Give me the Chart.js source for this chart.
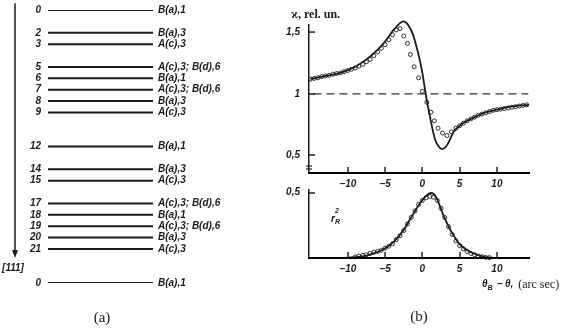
<!DOCTYPE html>
<html>
<head>
<meta charset="utf-8">
<script src="https://cdn.jsdelivr.net/npm/chart.js@4.4.0/dist/chart.umd.min.js"></script>
<style>
  html, body { margin: 0; padding: 0; background: #fff; }
  #wrap { position: relative; width: 567px; height: 329px; }
  #wrap canvas { position: absolute; left: 0; top: 0; }
</style>
</head>
<body>
<div id="wrap">
  <canvas id="levels" width="567" height="329"></canvas>
  <canvas id="kappa" width="567" height="329"></canvas>
  <canvas id="refl" width="567" height="329"></canvas>
</div>
<script>
// (a) atomic planes along [111]
const levelNumbers = ["0", "2", "3", "5", "6", "7", "8", "9", "12", "14", "15", "17", "18", "19", "20", "21", "0"];
const levelDepth = [0, 2, 3, 5, 6, 7, 8, 9, 12, 14, 15, 17, 18, 19, 20, 21, 24];
const levelLabels = [
  "B(a),1", "B(a),3", "A(c),3", "A(c),3; B(d),6", "B(a),1", "A(c),3; B(d),6", "B(a),3", "A(c),3",
  "B(a),1", "B(a),3", "A(c),3", "A(c),3; B(d),6", "B(a),1", "A(c),3; B(d),6", "B(a),3", "A(c),3", "B(a),1"
];

// (b) upper panel: kappa, rel. units
const kappaTheoryX = [-15, -13, -11, -9, -7.5, -6.5, -5.5, -4.7, -4, -3.4, -3.0, -2.6, -2.2, -1.8, -1.3,
  -0.9, -0.4, 0, 0.5, 1.1, 1.7, 2.2, 2.6, 3.0, 3.4, 4.2, 5, 6, 7, 8.6, 10, 11.3, 12.5, 14.3];
const kappaTheory = [1.12, 1.145, 1.17, 1.22, 1.28, 1.33, 1.39, 1.45, 1.51, 1.55, 1.575, 1.59, 1.58, 1.55, 1.49,
  1.41, 1.29, 1.17, 0.98, 0.79, 0.63, 0.57, 0.55, 0.56, 0.59, 0.69, 0.74, 0.78, 0.81, 0.85, 0.87, 0.89, 0.90, 0.91];
const kappaExpX = [-15, -14.5, -14, -13.5, -13, -12.5, -12, -11.5, -11, -10.5, -10, -9.5, -9, -8.5, -8,
  -7.5, -7, -6.5, -6, -5.5, -5, -4.5, -4, -3.5, -3, -2.5, -2, -1.6, -1.1, -0.5, 0, 0.6, 1.15, 1.6, 2.1,
  2.7, 3.3, 3.9, 4.5, 5, 5.5, 6, 6.5, 7, 7.5, 8, 8.5, 9, 9.5, 10, 10.5, 11, 11.5, 12, 12.5, 13, 13.5, 14];
const kappaExp = [1.12, 1.125, 1.13, 1.14, 1.145, 1.15, 1.16, 1.165, 1.17, 1.18, 1.19, 1.2, 1.21, 1.225, 1.24,
  1.26, 1.28, 1.31, 1.34, 1.37, 1.4, 1.44, 1.48, 1.52, 1.53, 1.47, 1.41, 1.32, 1.22, 1.13, 1.02, 0.93, 0.85, 0.78, 0.72,
  0.68, 0.66, 0.69, 0.72, 0.74, 0.76, 0.78, 0.795, 0.81, 0.825, 0.835, 0.845, 0.855, 0.865, 0.87, 0.875, 0.88, 0.885,
  0.89, 0.895, 0.9, 0.905, 0.91];
const unityX = [-14.6, 14.2];
const unityY = [1, 1];

// (b) lower panel: reflectivity
const reflTheoryX = [-11.4, -10, -8.3, -6.5, -5.2, -3.8, -2.5, -1.4, -0.3, 0.6, 1.2, 1.9, 2.8, 4.0, 5.1, 6.8, 8.6, 10];
const reflTheory = [0, 0.003, 0.01, 0.036, 0.067, 0.125, 0.215, 0.32, 0.42, 0.48, 0.497, 0.46, 0.33, 0.19, 0.10, 0.036, 0.005, 0];
const reflExpX = [-9, -8.5, -8, -7.5, -7, -6.5, -6, -5.5, -5, -4.5, -4, -3.5, -3, -2.5, -2, -1.5, -1, -0.5, 0,
  0.5, 1, 1.5, 2, 2.5, 3, 3.5, 4, 4.5, 5, 5.5, 6, 6.5, 7, 7.5, 8, 8.5, 9];
const reflExp = [0.008, 0.015, 0.02, 0.025, 0.035, 0.045, 0.05, 0.06, 0.075, 0.09, 0.11, 0.14, 0.17, 0.21, 0.26,
  0.31, 0.36, 0.41, 0.44, 0.46, 0.47, 0.465, 0.44, 0.38, 0.31, 0.24, 0.18, 0.13, 0.095, 0.07, 0.05, 0.035, 0.025,
  0.015, 0.01, 0.005, 0.003];

const xTicks = [-10, -5, 0, 5, 10];
const kappaTicks = [0.5, 1, 1.5];
const reflTicks = [0.5];

const ink = "#1b1b1b";
const axisInk = "#000000";
const narrow = '"Liberation Sans Narrow", "Liberation Sans", sans-serif';
const serif = '"Liberation Serif", "DejaVu Serif", serif';
const tickFont = { family: narrow, size: 10, style: "italic", weight: "bold" };

const pts = (xs, ys) => xs.map((x, i) => ({ x: x, y: ys[i] }));
const fmt = (v) => String(v).replace(".", ",").replace("-", "\u2212");

// labels and arrow for the level diagram
const levelText = {
  id: "levelText",
  afterDatasetsDraw(chart) {
    const { ctx, chartArea, scales } = chart;
    ctx.save();
    ctx.fillStyle = ink;
    ctx.strokeStyle = ink;
    ctx.font = "italic bold 10px " + narrow;
    ctx.textBaseline = "middle";
    levelDepth.forEach((d, i) => {
      const y = scales.y.getPixelForValue(d);
      ctx.textAlign = "right";
      ctx.fillText(levelNumbers[i], chartArea.left - 7, y);
      ctx.textAlign = "left";
      ctx.fillText(levelLabels[i], chartArea.right + 5, y);
    });
    // [111] direction arrow
    const ax = 15;
    const y0 = scales.y.getPixelForValue(-0.6);
    const y1 = scales.y.getPixelForValue(21.8);
    ctx.lineWidth = 1.5;
    ctx.beginPath();
    ctx.moveTo(ax, y0);
    ctx.lineTo(ax, y1 - 6);
    ctx.stroke();
    ctx.beginPath();
    ctx.moveTo(ax - 3, y1 - 8);
    ctx.lineTo(ax + 3, y1 - 8);
    ctx.lineTo(ax, y1);
    ctx.closePath();
    ctx.fill();
    ctx.textAlign = "center";
    ctx.fillText("[111]", 13, y1 + 10);
    ctx.font = "15px " + serif;
    ctx.fillText("(a)", 102, 318);
    ctx.restore();
  }
};

// x axis line as a filled strip, plus small inward tick marks
const innerTicks = {
  id: "innerTicks",
  afterDraw(chart, args, opts) {
    const { ctx, chartArea, scales } = chart;
    const base = Math.round(chartArea.bottom);
    ctx.save();
    ctx.fillStyle = axisInk;
    ctx.fillRect(chartArea.left - 1, base - 1, chartArea.right - chartArea.left + 1, 2);
    scales.x.ticks.forEach((t) => {
      const x = Math.round(scales.x.getPixelForValue(t.value));
      ctx.fillRect(x - 0.6, base - 6, 1.3, 6);
    });
    scales.y.ticks.forEach((t) => {
      const y = Math.round(scales.y.getPixelForValue(t.value));
      ctx.fillRect(chartArea.left, y - 0.6, 6, 1.3);
    });
    if (opts.axisBreak) {
      [4, 7].forEach((dy) => {
        ctx.fillRect(chartArea.left - 3, base - dy - 0.5, 6, 1);
      });
    }
    ctx.restore();
  }
};

const panelText = {
  id: "panelText",
  afterDraw(chart, args, opts) {
    const { ctx } = chart;
    ctx.save();
    ctx.fillStyle = ink;
    ctx.textBaseline = "middle";
    if (opts.kind === "kappa") {
      ctx.font = "bold 12px " + serif;
      ctx.fillText("\u03f0, rel. un.", 291, 15);
    } else {
      // r^2_R label
      ctx.font = "italic bold 10px " + narrow;
      ctx.fillText("r", 331, 219);
      ctx.font = "italic bold 7px " + narrow;
      ctx.fillText("2", 335, 211);
      ctx.fillText("R", 335, 222);
      // axis title
      let x = 482;
      ctx.font = "italic bold 10px " + narrow;
      ctx.fillText("\u03b8", x, 284);
      x += ctx.measureText("\u03b8").width;
      ctx.font = "italic bold 7px " + narrow;
      ctx.fillText("B", x, 288);
      x += ctx.measureText("B").width + 1;
      ctx.font = "italic bold 10px " + narrow;
      ctx.fillText(" \u2212 \u03b8,", x, 284);
      x += ctx.measureText(" \u2212 \u03b8, ").width + 2;
      ctx.font = "12px " + serif;
      ctx.fillText("(arc sec)", x, 285);
      ctx.font = "15px " + serif;
      ctx.textAlign = "center";
      ctx.fillText("(b)", 419, 317);
    }
    ctx.restore();
  }
};

const makeX = () => ({
  type: "linear",
  min: -15.2,
  max: 14.3,
  afterBuildTicks: (s) => { s.ticks = xTicks.map((v) => ({ value: v })); },
  afterFit: (s) => { s.height = 20; },
  grid: { display: false, drawTicks: false, tickLength: 0 },
  border: { display: true, color: axisInk, width: 2 },
  ticks: { color: ink, font: tickFont, padding: 5, maxRotation: 0, callback: fmt }
});

const makeY = (min, max, tickList) => ({
  type: "linear",
  min: min,
  max: max,
  afterBuildTicks: (s) => { s.ticks = tickList.map((v) => ({ value: v })); },
  afterFit: (s) => { s.width = 40; },
  grid: { display: false, drawTicks: false, tickLength: 0 },
  border: { display: true, color: ink, width: 1.5 },
  ticks: { color: ink, font: tickFont, padding: 9, callback: fmt }
});

const baseOptions = () => ({
  responsive: false,
  animation: false,
  events: [],
  devicePixelRatio: 1
});

new Chart(document.getElementById("levels"), {
  type: "scatter",
  data: {
    datasets: levelDepth.map((d) => ({
      data: [{ x: 0, y: d }, { x: 1, y: d }],
      showLine: true,
      borderColor: ink,
      borderWidth: 2,
      pointRadius: 0
    }))
  },
  options: Object.assign(baseOptions(), {
    layout: { padding: { left: 48, right: 414, top: 10, bottom: 46 } },
    plugins: { legend: { display: false }, tooltip: { enabled: false } },
    scales: {
      x: { display: false, min: 0, max: 1 },
      y: { display: false, reverse: true, min: 0, max: 24 }
    }
  }),
  plugins: [levelText]
});

new Chart(document.getElementById("kappa"), {
  type: "scatter",
  data: {
    datasets: [
      { data: pts(unityX, unityY), showLine: true, borderColor: "#333", borderWidth: 1.3, borderDash: [8, 5], pointRadius: 0 },
      { data: pts(kappaTheoryX, kappaTheory), showLine: true, borderColor: ink, borderWidth: 1.8, cubicInterpolationMode: "monotone", pointRadius: 0, clip: false },
      { data: pts(kappaExpX, kappaExp), showLine: false, pointRadius: 2, pointBorderWidth: 0.9, pointBorderColor: ink, pointBackgroundColor: "rgba(255,255,255,0)", clip: false }
    ]
  },
  options: Object.assign(baseOptions(), {
    layout: { padding: { left: 269, right: 38, top: 25, bottom: 136 } },
    plugins: { legend: { display: false }, tooltip: { enabled: false }, innerTicks: { axisBreak: true }, panelText: { kind: "kappa" } },
    scales: { x: makeX(), y: makeY(0.355, 1.56, kappaTicks) }
  }),
  plugins: [innerTicks, panelText]
});

new Chart(document.getElementById("refl"), {
  type: "scatter",
  data: {
    datasets: [
      { data: pts(reflTheoryX, reflTheory), showLine: true, borderColor: ink, borderWidth: 1.8, cubicInterpolationMode: "monotone", pointRadius: 0, clip: false },
      { data: pts(reflExpX, reflExp), showLine: false, pointRadius: 2, pointBorderWidth: 0.9, pointBorderColor: ink, pointBackgroundColor: "rgba(255,255,255,0)", clip: false }
    ]
  },
  options: Object.assign(baseOptions(), {
    layout: { padding: { left: 269, right: 38, top: 190, bottom: 51 } },
    plugins: { legend: { display: false }, tooltip: { enabled: false }, innerTicks: { axisBreak: false }, panelText: { kind: "refl" } },
    scales: { x: makeX(), y: makeY(0, 0.52, reflTicks) }
  }),
  plugins: [innerTicks, panelText]
});
</script>
</body>
</html>
